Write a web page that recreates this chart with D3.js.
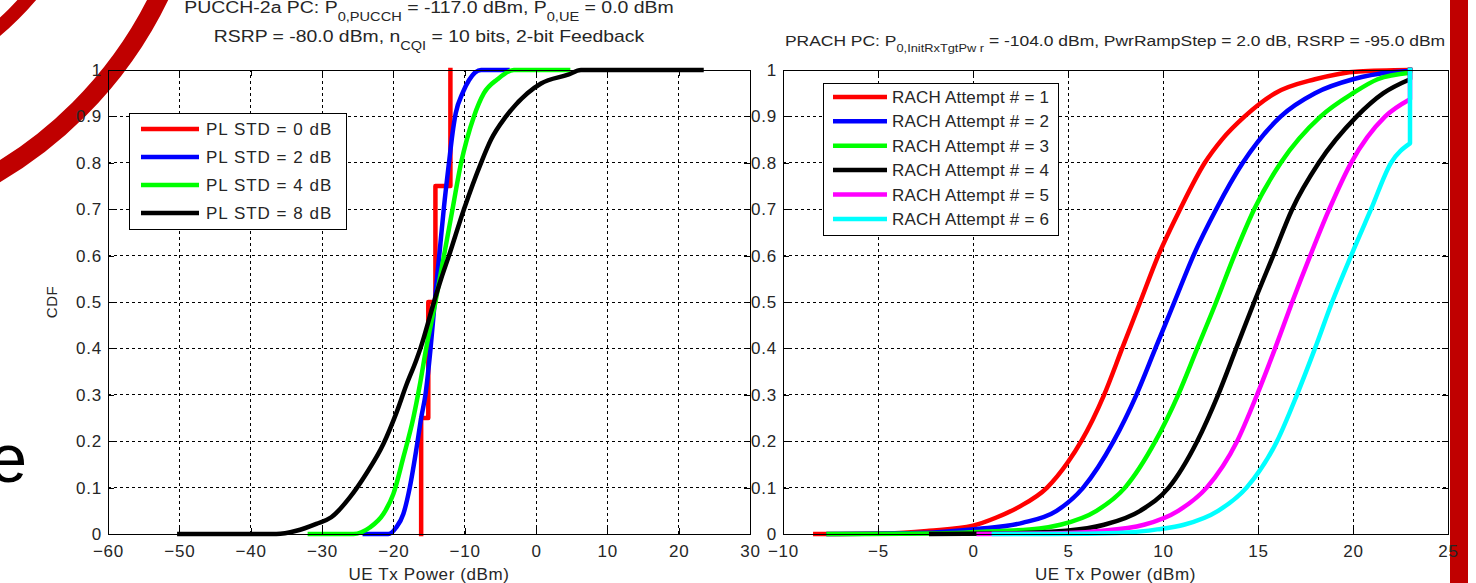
<!DOCTYPE html>
<html><head><meta charset="utf-8">
<script src="https://cdn.jsdelivr.net/npm/d3@7"></script>
<style>
html,body{margin:0;padding:0;background:#fff;overflow:hidden;}
svg{display:block;}
text{font-family:"Liberation Sans", Arial, sans-serif;}
</style></head><body>
<svg id="chart" width="1476" height="583"></svg>
<script>
// ---------------- data ----------------
const yTicks = [0, 0.1, 0.2, 0.3, 0.4, 0.5, 0.6, 0.7, 0.8, 0.9, 1];
const yTickLabels = ["0", "0.1", "0.2", "0.3", "0.4", "0.5", "0.6", "0.7", "0.8", "0.9", "1"];
const leftXTicks = [-60, -50, -40, -30, -20, -10, 0, 10, 20, 30];
const rightXTicks = [-10, -5, 0, 5, 10, 15, 20, 25];

const leftNames = ["PL STD = 0 dB", "PL STD = 2 dB", "PL STD = 4 dB", "PL STD = 8 dB"];
const leftColors = ["#ff0000", "#0000ff", "#00ff00", "#000000"];
const rightNames = ["RACH Attempt # = 1", "RACH Attempt # = 2", "RACH Attempt # = 3",
                    "RACH Attempt # = 4", "RACH Attempt # = 5", "RACH Attempt # = 6"];
const rightColors = ["#ff0000", "#0000ff", "#00ff00", "#000000", "#ff00ff", "#00ffff"];

// PL STD = 0 dB : staircase CDF
const pl0StepX = [-16.1, -15.1, -14.1, -12.0];
const pl0StepCdf = [0, 0.25, 0.5, 0.75, 1.0];
// PL STD = 2, 4, 8 dB : [power dBm, CDF]
const pl2 = [[-24.0,0],[-20.7,0],[-19.6,0.014],[-18.6,0.043],[-17.7,0.1],[-16.8,0.18],[-16.1,0.25],
  [-15.5,0.3],[-14.8,0.397],[-14.2,0.5],[-13.5,0.61],[-12.9,0.705],[-12.2,0.8],[-11.7,0.864],
  [-11.25,0.907],[-10.3,0.95],[-9.4,0.978],[-7.7,1.0],[-4.0,1.0]];
const pl4 = [[-31.7,0],[-25.6,0],[-23.3,0.014],[-21.4,0.043],[-20.0,0.086],[-18.6,0.165],[-17.2,0.25],
  [-16.3,0.32],[-15.4,0.40],[-14.1,0.5],[-12.9,0.6],[-11.7,0.7],[-10.5,0.8],[-9.7,0.85],[-8.7,0.9],
  [-7.3,0.95],[-5.4,0.98],[-3.1,1.0],[4.5,1.0]];
const pl8 = [[-50,0],[-36.4,0],[-33.6,0.007],[-30.8,0.022],[-28.7,0.036],[-26.1,0.079],[-23.8,0.13],
  [-21.4,0.194],[-19.6,0.26],[-18.2,0.32],[-16.8,0.374],[-16.2,0.4],[-14.3,0.5],[-13.3,0.55],[-12.2,0.6],
  [-10.1,0.7],[-7.7,0.8],[-6.3,0.85],[-4.2,0.9],[-1.2,0.95],[0.7,0.971],[4.5,0.99],[6.3,1.0],[23.2,1.0]];

// RACH attempts 1..6 : [power dBm, CDF]; max power where all jump to 1
const maxPower = 23;
const rach1 = [[-8.3,0],[-4.5,0.001],[-2.3,0.007],[0,0.018],[1.2,0.035],[2.4,0.058],[3.9,0.1],[5.0,0.155],
  [5.7,0.2],[6.9,0.3],[7.85,0.4],[8.8,0.5],[9.75,0.6],[10.9,0.7],[12.2,0.8],[13.1,0.85],[14.3,0.9],
  [15.9,0.95],[18.0,0.98],[20.3,0.997],[23,1.0]];
const rach2 = [[-7.6,0],[-3,0.002],[0.2,0.011],[2.6,0.024],[4.4,0.05],[5.8,0.1],[7.4,0.2],[8.6,0.3],
  [9.6,0.4],[10.6,0.5],[11.6,0.6],[12.8,0.7],[14.2,0.8],[16.2,0.9],[18.0,0.95],[20.0,0.98],[22.0,0.995],[23,0.998]];
const rach3 = [[-7.6,0],[-2,0.001],[1.1,0.006],[3.5,0.012],[4.6,0.02],[6.5,0.05],[8.0,0.1],[9.6,0.2],
  [10.8,0.3],[11.8,0.4],[12.8,0.5],[13.75,0.6],[14.8,0.7],[16.2,0.8],[18.3,0.9],[20.0,0.95],[21.3,0.98],[23,0.994]];
const rach4 = [[-2.2,0],[1.5,0.001],[4.9,0.007],[6.9,0.02],[8.8,0.05],[10.3,0.1],[11.8,0.2],[12.9,0.3],
  [13.85,0.4],[14.8,0.5],[15.8,0.6],[16.8,0.7],[18.2,0.8],[20.2,0.9],[21.6,0.95],[23,0.98]];
const rach5 = [[0.3,0],[4,0.001],[6.5,0.006],[9.0,0.02],[10.8,0.05],[12.3,0.1],[13.9,0.2],[14.95,0.3],
  [15.9,0.4],[16.8,0.5],[17.75,0.6],[18.75,0.7],[19.9,0.8],[21.7,0.9],[23,0.937]];
const rach6 = [[1.1,0],[6,0.0005],[8.1,0.003],[9.7,0.01],[11.1,0.02],[12.9,0.05],[14.4,0.1],[16.0,0.2],
  [17.05,0.3],[18.0,0.4],[18.9,0.5],[19.9,0.6],[20.95,0.7],[22.0,0.8],[23,0.842]];

const leftTitle1 = [["PUCCH-2a PC: P"],["0,PUCCH",1],[" = -117.0 dBm, P"],["0,UE",1],[" = 0.0 dBm"]];
const leftTitle2 = [["RSRP = -80.0 dBm, n"],["CQI",1],[" = 10 bits, 2-bit Feedback"]];
const rightTitle = [["PRACH PC: P"],["0,InitRxTgtPw r",1],[" = -104.0 dBm, PwrRampStep = 2.0 dB, RSRP = -95.0 dBm"]];
const xLabel = "UE Tx Power (dBm)";
const yLabel = "CDF";

// ---------------- drawing ----------------
const svg = d3.select("#chart");
const TXT = "#262626";
const LW = 4.5;

// decorations (slide background)
const deco = svg.append("g");
deco.append("circle").attr("cx",-199).attr("cy",-199).attr("r",301)
  .attr("fill","none").attr("stroke","#c00000").attr("stroke-width",14);
deco.append("circle").attr("cx",-215).attr("cy",-185).attr("r",416)
  .attr("fill","none").attr("stroke","#c00000").attr("stroke-width",19);
deco.append("rect").attr("x",1450).attr("y",0).attr("width",18).attr("height",583).attr("fill","#c00000");
deco.append("text").attr("x",27).attr("y",482).attr("text-anchor","end")
  .attr("font-size",68).attr("fill","#000").text("e");

const y = d3.scaleLinear().domain([0,1]).range([534,70]);

function richText(parent, parts, cx, by, size, subSize, subDy){
  const t = parent.append("text").attr("x",cx).attr("y",by).attr("text-anchor","middle")
    .attr("font-size",size).attr("fill",TXT);
  parts.forEach((p,i)=>{
    const ts = t.append("tspan").text(p[0]);
    if (p[1]) ts.attr("dy",subDy).attr("font-size",subSize);
    else if (i>0 && parts[i-1][1]) ts.attr("dy",-subDy);
  });
  return t;
}
function fitWidth(t, cx, target){
  const w = t.node().getBBox().width;
  const s = target / w;
  t.attr("transform",`translate(${cx},0) scale(${s},1) translate(${-cx},0)`);
}

function panel(x, ticks, series, names, colors, legendBox, legendRowH, legendLine){
  const [x0,x1] = x.range();
  const [yb,yt] = y.range();
  const g = svg.append("g");
  // grid
  const grid = g.append("g").attr("stroke","#000").attr("stroke-width",1)
    .attr("stroke-dasharray","3,3").attr("shape-rendering","crispEdges");
  ticks.slice(1,-1).forEach(v=>grid.append("line").attr("x1",x(v)).attr("x2",x(v)).attr("y1",yb).attr("y2",yt));
  yTicks.slice(1,-1).forEach(v=>grid.append("line").attr("x1",x0).attr("x2",x1).attr("y1",y(v)).attr("y2",y(v)));
  // series
  series.forEach((s,i)=>{
    g.append("path").attr("d",s).attr("fill","none").attr("stroke",colors[i])
      .attr("stroke-width",LW).attr("stroke-linejoin","round").attr("stroke-linecap","square");
  });
  // box
  g.append("rect").attr("x",x0).attr("y",yt).attr("width",x1-x0).attr("height",yb-yt)
    .attr("fill","none").attr("stroke","#000").attr("stroke-width",1).attr("shape-rendering","crispEdges");
  // axes
  const fmt = d=>yTickLabels[yTicks.indexOf(d)];
  const ax = g.append("g").attr("transform",`translate(0,${yb})`)
    .call(d3.axisBottom(x).tickValues(ticks).tickSizeInner(-6).tickSizeOuter(0).tickPadding(11));
  const ay = g.append("g").attr("transform",`translate(${x0},0)`)
    .call(d3.axisLeft(y).tickValues(yTicks).tickFormat(fmt).tickSizeInner(-6).tickSizeOuter(0).tickPadding(6));
  const axT = g.append("g").attr("transform",`translate(0,${yt})`)
    .call(d3.axisTop(x).tickValues(ticks).tickFormat("").tickSizeInner(-6).tickSizeOuter(0));
  const ayR = g.append("g").attr("transform",`translate(${x1},0)`)
    .call(d3.axisRight(y).tickValues(yTicks).tickFormat("").tickSizeInner(-6).tickSizeOuter(0));
  [ax,ay,axT,ayR].forEach(a=>{
    a.select(".domain").remove();
    a.selectAll(".tick line").attr("stroke","#000").attr("shape-rendering","crispEdges");
    a.selectAll("text").attr("font-size",17).attr("fill",TXT).attr("letter-spacing",0.8)
      .attr("font-family",'"Liberation Sans", Arial, sans-serif');
  });
  // x label
  g.append("text").attr("x",(x0+x1)/2).attr("y",580).attr("text-anchor","middle")
    .attr("font-size",17).attr("letter-spacing",0.6).attr("fill",TXT).text(xLabel);
  // legend
  const [lx,ly,lw,lh] = legendBox;
  const lg = g.append("g");
  lg.append("rect").attr("x",lx).attr("y",ly).attr("width",lw).attr("height",lh)
    .attr("fill","#fff").attr("stroke","#000").attr("stroke-width",1).attr("shape-rendering","crispEdges");
  names.forEach((n,i)=>{
    const cy = ly + legendRowH*0.57 + i*legendRowH;
    lg.append("line").attr("x1",lx+legendLine[0]).attr("x2",lx+legendLine[1]).attr("y1",cy).attr("y2",cy)
      .attr("stroke",colors[i]).attr("stroke-width",LW);
    lg.append("text").attr("x",lx+legendLine[2]).attr("y",cy+6).attr("font-size",17)
      .attr("letter-spacing",legendLine[3]).attr("fill",TXT).text(n);
  });
  return g;
}

// ----- left panel -----
const xL = d3.scaleLinear().domain([-60,30]).range([108,750]);
const lineL = d3.line().x(d=>xL(d[0])).y(d=>y(d[1])).curve(d3.curveMonotoneX);
const stairPts = [];
pl0StepX.forEach((xv,i)=>{ stairPts.push([xv,pl0StepCdf[i]]); stairPts.push([xv,pl0StepCdf[i+1]]); });
const stairPath = d3.line().x(d=>xL(d[0])).y(d=>y(d[1]))(stairPts);
panel(xL, leftXTicks, [stairPath, lineL(pl2), lineL(pl4), lineL(pl8)], leftNames, leftColors,
  [129,113,217,116], 28, [12,70,77,1.0]);
// y label
svg.append("text").attr("transform","translate(57,302) rotate(-90)").attr("text-anchor","middle")
  .attr("font-size",15).attr("fill",TXT).attr("letter-spacing",0.5).text(yLabel);

// ----- right panel -----
const xR = d3.scaleLinear().domain([-10,25]).range([783,1448]);
const lineR = d3.line().x(d=>xR(d[0])).y(d=>y(d[1])).curve(d3.curveMonotoneX);
const rightPaths = [rach1,rach2,rach3,rach4,rach5,rach6].map(s=>{
  const last = s[s.length-1];
  return lineR(s) + (last[1] < 1 ? `L${xR(maxPower)},${y(1)}` : "");
});
panel(xR, rightXTicks, rightPaths, rightNames, rightColors, [823,83,235,152], 24.4, [10,64,69,0.2]);

// ----- titles -----
const t1 = richText(svg, leftTitle1, 429, 13, 16, 12, 8); fitWidth(t1, 429, 490);
const t2 = richText(svg, leftTitle2, 429, 42, 16, 12, 8); fitWidth(t2, 429, 432);
const t3 = richText(svg, rightTitle, 1115, 46, 15, 11, 6); fitWidth(t3, 1115, 661);
</script>
</body></html>
